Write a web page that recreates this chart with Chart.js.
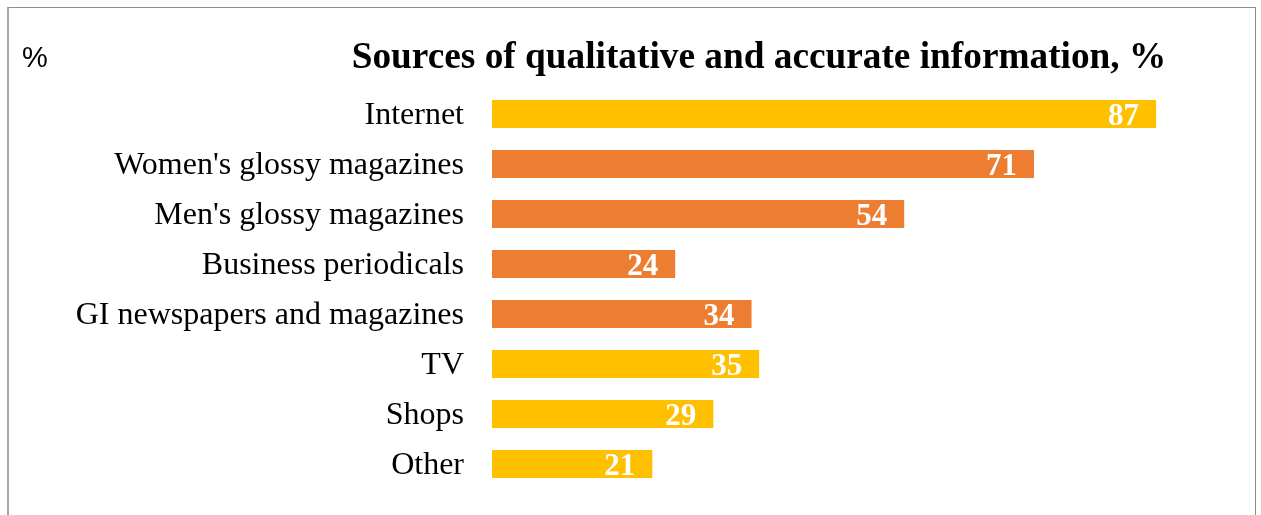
<!DOCTYPE html>
<html>
<head>
<meta charset="utf-8">
<script src="https://cdn.jsdelivr.net/npm/chart.js@4"></script>
<style>
  html, body { margin: 0; padding: 0; background: #fff; }
  #wrap { position: relative; width: 1261px; height: 515px; }
  #frame {
    position: absolute; left: 7px; top: 7px; width: 1246px; height: 520px;
    border-left: 2px solid #a6a6a6; border-top: 1px solid #8c8c8c; border-right: 1px solid #8c8c8c;
  }
  #chart { position: absolute; left: 0; top: 0; }
</style>
</head>
<body>
<div id="wrap">
  <div id="frame"></div>
  <canvas id="chart" width="1261" height="515"></canvas>
</div>
<script>
// Survey answers
const sources = [
    'Internet',
    "Women's glossy magazines",
    "Men's glossy magazines",
    'Business periodicals',
    'GI newspapers and magazines',
    'TV',
    'Shops',
    'Other'
];
const shares = [87, 71, 54, 24, 34, 35, 29, 21];
const printMedia = [false, true, true, true, true, false, false, false];

const chartTitle = 'Sources of qualitative and accurate information, %';
const unitLabel = '%';

const YELLOW = '#FFC000';
const ORANGE = '#ED7D31';
const SERIF = '"Liberation Serif", "Times New Roman", serif';

// Title and unit mark at the top
const headerPlugin = {
    id: 'header',
    afterDraw(chart) {
        const c = chart.ctx;
        c.save();
        c.fillStyle = '#000';
        c.textBaseline = 'alphabetic';
        c.textAlign = 'center';
        c.font = 'bold 37.3px ' + SERIF;
        c.fillText(chartTitle, 759, 68);
        c.textAlign = 'left';
        c.font = '29px "Liberation Sans", Arial, sans-serif';
        c.fillText(unitLabel, 22, 67);
        c.restore();
    }
};

// White value labels at the end of each bar
const valueLabels = {
    id: 'valueLabels',
    afterDatasetsDraw(chart) {
        const c = chart.ctx;
        const meta = chart.getDatasetMeta(0);
        c.save();
        c.fillStyle = '#fff';
        c.font = 'bold 31px ' + SERIF;
        c.textAlign = 'right';
        c.textBaseline = 'alphabetic';
        meta.data.forEach((bar, i) => {
            c.fillText(String(shares[i]), bar.x - 17, bar.y + 11);
        });
        c.restore();
    }
};

const ctx = document.getElementById('chart').getContext('2d');
const chart = new Chart(ctx, {
    type: 'bar',
    data: {
        labels: sources,
        datasets: [{
            data: shares,
            backgroundColor: printMedia.map(p => p ? ORANGE : YELLOW),
            barPercentage: 0.56,
            categoryPercentage: 1.0
        }]
    },
    options: {
        indexAxis: 'y',
        responsive: false,
        animation: false,
        layout: { padding: { top: 89, bottom: 26, left: 0, right: 82 } },
        plugins: {
            legend: { display: false },
            title: { display: false },
            tooltip: { enabled: false }
        },
        scales: {
            x: { display: false, min: 0, max: 90 },
            y: {
                grid: { display: false },
                border: { display: false },
                ticks: {
                    color: '#000',
                    padding: 20,
                    labelOffset: 2,
                    font: { family: SERIF, size: 32 }
                },
                afterFit(scale) {
                    // fixed label column; labels sit mid-band so no overhang padding
                    scale.width = 492;
                    scale.paddingTop = 0;
                    scale.paddingBottom = 0;
                }
            }
        }
    },
    plugins: [headerPlugin, valueLabels]
});
</script>
</body>
</html>
